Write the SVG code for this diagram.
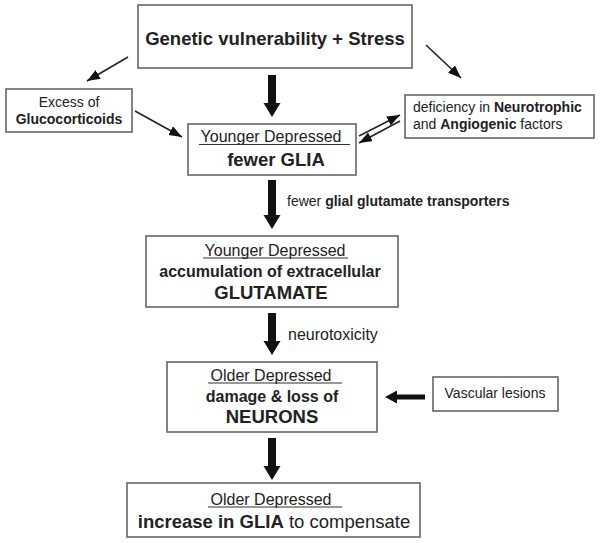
<svg xmlns="http://www.w3.org/2000/svg" width="600" height="543" viewBox="0 0 600 543">
<defs>
<style>
.box{fill:#fff;stroke:#666;stroke-width:1.6}
text{font-family:"Liberation Sans",Arial,sans-serif;fill:#222}
.b{font-weight:bold}
.c{text-anchor:middle}
.ul{stroke:#333;stroke-width:1.2}
.thin{stroke:#222;stroke-width:1.6;fill:none;marker-end:url(#ah)}
.thick{fill:#111;stroke:none}
</style>
<marker id="ah" markerUnits="userSpaceOnUse" markerWidth="14" markerHeight="11" refX="13" refY="5" orient="auto">
<path d="M0,0 L13,5 L0,10 Z" fill="#111"/>
</marker>
</defs>
<rect width="600" height="543" fill="#fff"/>

<g id="connectors">
<line class="thin" x1="128" y1="57" x2="87" y2="81"/>
<line class="thin" x1="135" y1="111" x2="182" y2="137"/>
<line class="thin" x1="426" y1="45" x2="461" y2="78"/>
<line class="thin" x1="359" y1="136" x2="400" y2="115"/>
<line class="thin" x1="400" y1="121" x2="359" y2="143"/>
<path class="thick" d="M268,75 H276 V103 H280.5 L272,117 L263.5,103 H268 Z"/>
<path class="thick" d="M268,180 H276 V215 H280.5 L272,229 L263.5,215 H268 Z"/>
<path class="thick" d="M268,313 H276 V341 H280.5 L272,355 L263.5,341 H268 Z"/>
<path class="thick" d="M268,438 H276 V466 H280.5 L272,480 L263.5,466 H268 Z"/>
<path class="thick" d="M425,394.5 V399.5 H397 V403.5 L385,397 L397,390.5 V394.5 Z"/>
<text x="287" y="206" font-size="14">fewer <tspan class="b">glial glutamate transporters</tspan></text>
<text x="288" y="340" font-size="16">neurotoxicity</text>
</g>

<g id="node-genetic">
<rect class="box" x="138" y="5" width="274" height="63"/>
<text class="b c" x="275" y="45" font-size="18.5">Genetic vulnerability + Stress</text>
</g>

<g id="node-glucocorticoids">
<rect class="box" x="6" y="89" width="126" height="43"/>
<text class="c" x="69" y="107" font-size="14">Excess of</text>
<text class="b c" x="69" y="124" font-size="14">Glucocorticoids</text>
</g>

<g id="node-deficiency">
<rect class="box" x="405" y="95" width="189" height="43"/>
<text x="413" y="112" font-size="14">deficiency in <tspan class="b">Neurotrophic</tspan></text>
<text x="413" y="129" font-size="14">and <tspan class="b">Angiogenic</tspan> factors</text>
</g>

<g id="node-fewer-glia">
<rect class="box" x="188" y="124" width="168" height="51"/>
<text class="c" x="271" y="142" font-size="16">Younger Depressed</text>
<line class="ul" x1="199" y1="144.5" x2="350" y2="144.5"/>
<text class="b c" x="276" y="166" font-size="18.5">fewer GLIA</text>
</g>

<g id="node-glutamate">
<rect class="box" x="146" y="236" width="252" height="71"/>
<text class="c" x="275" y="256" font-size="16">Younger Depressed</text>
<line class="ul" x1="203" y1="258" x2="348" y2="258"/>
<text class="b c" x="270" y="277" font-size="16">accumulation of extracellular</text>
<text class="b c" x="271" y="299" font-size="18.5">GLUTAMATE</text>
</g>

<g id="node-neurons">
<rect class="box" x="167" y="362" width="210" height="70"/>
<text class="c" x="271" y="381" font-size="16">Older Depressed</text>
<line class="ul" x1="208" y1="383" x2="342" y2="383"/>
<text class="b c" x="272" y="402" font-size="16">damage &amp; loss of</text>
<text class="b c" x="272" y="423" font-size="18.5">NEURONS</text>
</g>

<g id="node-vascular">
<rect class="box" x="433" y="377" width="125" height="34"/>
<text class="c" x="495" y="398" font-size="14">Vascular lesions</text>
</g>

<g id="node-increase">
<rect class="box" x="127" y="483" width="293" height="54"/>
<text class="c" x="271" y="505" font-size="16">Older Depressed</text>
<line class="ul" x1="208" y1="507" x2="342" y2="507"/>
<text class="c" x="274" y="528" font-size="18.5"><tspan class="b">increase in GLIA</tspan> to compensate</text>
</g>
</svg>
